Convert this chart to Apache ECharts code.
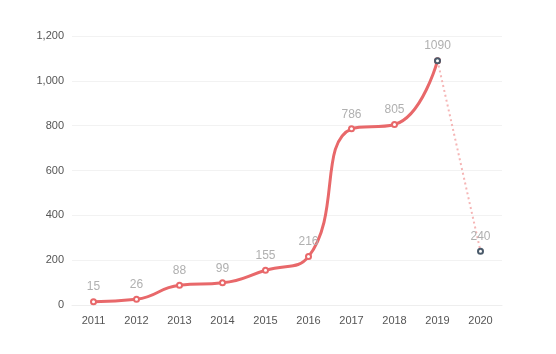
<!DOCTYPE html>
<html style="height: 100%">
<head>
    <meta charset="utf-8">
</head>
<body style="height: 100%; margin: 0">
<div id="container" style="height: 100%"></div>
<script src="https://cdn.jsdelivr.net/npm/echarts@6/dist/echarts.min.js"></script>
<script type="text/javascript">
    var years = ['2011', '2012', '2013', '2014', '2015', '2016', '2017', '2018', '2019', '2020'];
    // actual values up to 2019
    var actual = [15, 26, 88, 99, 155, 216, 786, 805, 1090, null];
    // forecast segment 2019 -> 2020
    var forecast = [null, null, null, null, null, null, null, null, 1090, 240];

    var dom = document.getElementById("container");
    var myChart = echarts.init(dom);
    var option = {
        animation: false,
        grid: {left: 72, right: 54, top: 36, bottom: 49},
        xAxis: {
            type: 'category',
            data: years,
            axisLine: {lineStyle: {color: '#eeeeee'}},
            axisTick: {show: false},
            axisLabel: {color: '#555', fontSize: 11, margin: 10, fontFamily: 'Liberation Sans'}
        },
        yAxis: {
            type: 'value',
            min: 0,
            max: 1200,
            interval: 200,
            axisLine: {show: false},
            axisTick: {show: false},
            axisLabel: {
                color: '#555', fontSize: 11, margin: 8, fontFamily: 'Liberation Sans',
                formatter: function (v) { return v.toLocaleString('en-US'); }
            },
            splitLine: {lineStyle: {color: '#f2f2f2'}}
        },
        series: [
            {
                type: 'line',
                data: actual,
                smooth: 0.5,
                symbol: 'emptyCircle',
                symbolSize: 5,
                lineStyle: {color: '#e8686a', width: 3},
                itemStyle: {color: '#e8686a', borderWidth: 1.2},
                label: {
                    show: true, position: 'top', color: '#b0b0b0', fontSize: 12, fontFamily: 'Liberation Sans',
                    formatter: function (p) { return p.dataIndex === 8 ? '' : p.value; }
                },
                z: 2
            },
            {
                type: 'line',
                data: forecast,
                smooth: false,
                symbol: 'emptyCircle',
                symbolSize: 5,
                lineStyle: {color: '#f5b5b5', width: 2, type: [2, 3]},
                itemStyle: {color: '#4a5a6a', borderWidth: 1.2},
                label: {show: true, position: 'top', color: '#b0b0b0', fontSize: 12, fontFamily: 'Liberation Sans'},
                z: 3
            }
        ]
    };
    myChart.setOption(option);
</script>
</body>
</html>
